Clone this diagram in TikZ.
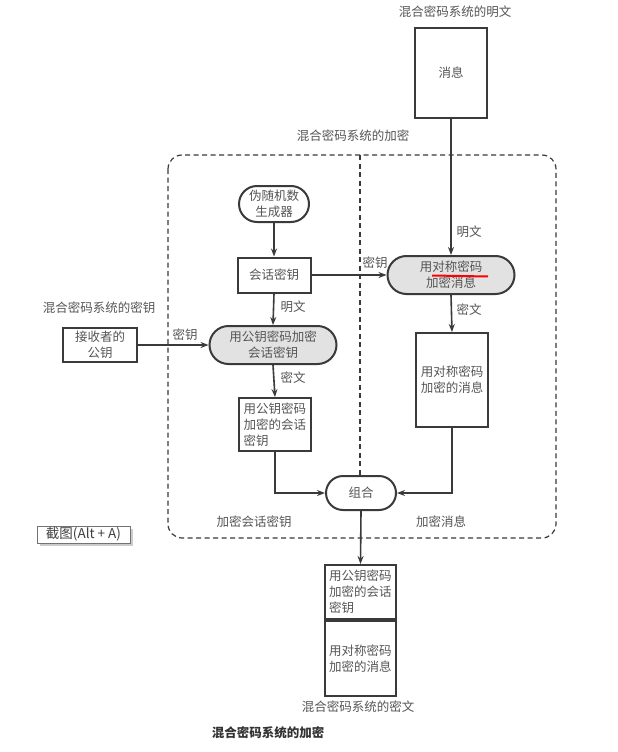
\documentclass[tikz,border=0pt]{standalone}
\usepackage{fontspec}
\setmainfont{Noto Sans CJK SC}
\usetikzlibrary{arrows.meta,shapes.misc}
\definecolor{linec}{HTML}{3A3A3A}
\definecolor{txtc}{HTML}{555555}
\definecolor{procfill}{HTML}{E2E2E2}
\tikzset{
  every node/.style={font=\fontsize{12.5}{16}\selectfont, text=txtc},
  boxn/.style={draw=linec, line width=2pt, fill=white, rectangle, inner sep=0pt, align=center},
  stadn/.style={draw=linec, line width=2pt, fill=white, rounded rectangle, inner sep=0pt, align=center},
  procn/.style={stadn, fill=procfill},
  conn/.style={draw=linec, line width=1.6pt, -{Stealth[length=8pt,width=6pt]}},
  lbl/.style={inner sep=0pt},
  dashbox/.style={draw=linec, line width=1.2pt, dash pattern=on 5pt off 3.5pt}
}
\begin{document}
\begin{tikzpicture}[x=1pt,y=-1pt]
\useasboundingbox (0,0) rectangle (618,752);
\fill[white] (0,0) rectangle (618,752);

% container
\draw[dashbox, rounded corners=14pt] (168,155) rectangle (556,538);
\node[lbl] (ttl) at (353,136) {混合密码系统的加密};

% top message
\node[lbl] (ptlbl) at (455,12) {混合密码系统的明文};
\node[boxn, minimum width=72pt, minimum height=90pt] (msg) at (451,73) {消息};

% left column
\node[stadn, minimum width=70pt, minimum height=36pt] (prng) at (274,204) {伪随机数\\生成器};
\node[boxn, minimum width=73pt, minimum height=35pt] (sess) at (274,275) {会话密钥};
\node[procn, minimum width=127pt, minimum height=38pt] (pub) at (273,345) {用公钥密码加密\\会话密钥};
\node[boxn, minimum width=72pt, minimum height=53pt, text width=63pt, align=left] (enckey) at (275,424.5) {用公钥密码\\加密的会话\\密钥};

% receiver key
\node[lbl] (klbl) at (99,308) {混合密码系统的密钥};
\node[boxn, minimum width=74pt, minimum height=34pt] (recv) at (100,345) {接收者的\\公钥};

% right column
\node[procn, minimum width=127pt, minimum height=38pt] (sym) at (451,275) {用对称密码\\加密消息};
\node[boxn, minimum width=72pt, minimum height=94pt] (encmsg) at (452,380) {用对称密码\\加密的消息};

% combine
\node[stadn, minimum width=70pt, minimum height=34pt] (comb) at (361,493) {组合};

% vertical dashed divider
\coordinate (dtop) at (360,155);
\draw[dashbox] (dtop) -- (dtop |- comb.north);

% output
\node[boxn, minimum width=71pt, minimum height=54pt, text width=63pt, align=left] (outk) at (360.5,592) {用公钥密码\\加密的会话\\密钥};
\node[boxn, minimum width=71pt, minimum height=75pt, text width=63pt, align=left, anchor=north] (outm) at (outk.south) {用对称密码\\加密的消息};
\node[lbl] (ctlbl) at (358,707) {混合密码系统的密文};
\node[lbl, font=\fontsize{12.5}{16}\selectfont\bfseries, text=black!80] (cap) at (268,733) {混合密码系统的加密};

% connectors
\draw[conn] (msg.south) -- (sym.north);
\node[lbl] at (469,232) {明文};
\draw[conn] (prng.south) -- (sess.north);
\draw[conn] (sess.east) -- (sess.east -| sym.west);
\node[lbl] at (375,263) {密钥};
\draw[conn] (sess.south) -- (pub.north);
\node[lbl] at (293,307) {明文};
\draw[conn] (recv.east) -- (recv.east -| pub.west);
\node[lbl] at (185,335) {密钥};
\draw[conn] (pub.south) -- (enckey.north);
\node[lbl] at (293,378) {密文};
\draw[conn] (sym.south) -- (encmsg.north);
\node[lbl] at (469,310) {密文};
\draw[conn] (enckey.south) |- (comb.west);
\draw[conn] (encmsg.south) |- (comb.east);
\node[lbl] at (254,522) {加密会话密钥};
\node[lbl] at (441,522) {加密消息};
\draw[conn] (comb.south) -- (outk.north);

% red underline
\draw[red, line width=2pt] (432,275.5) -- (488,276.5);

% screenshot tooltip
\fill[black!20] (40,529) rectangle (133,546);
\node[draw=black!55, line width=0.7pt, fill=white, minimum width=93pt, minimum height=17pt, inner sep=0pt, text=black!75, font=\fontsize{13.5}{15}\selectfont] (tip) at (83.5,534.5) {截图(Alt + A)};
\end{tikzpicture}
\end{document}
